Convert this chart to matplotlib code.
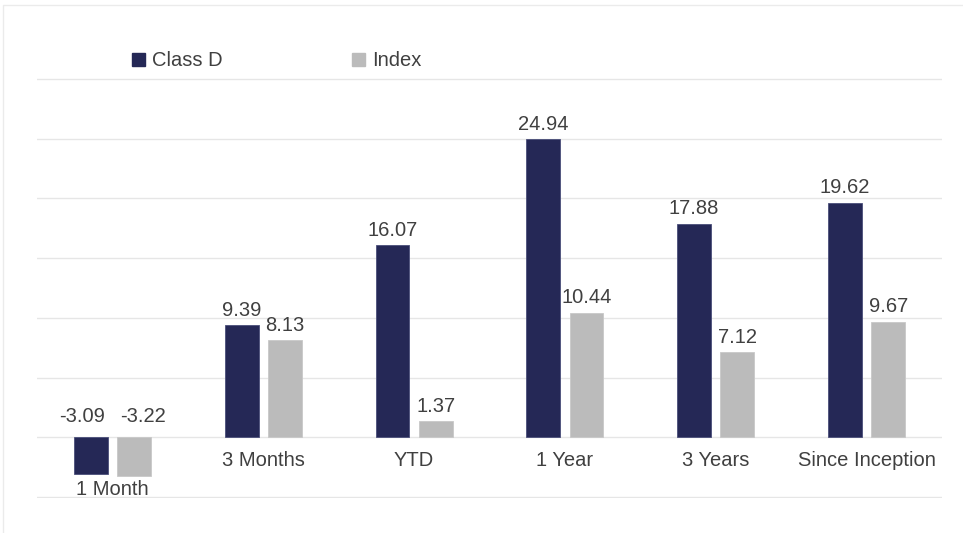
import matplotlib
matplotlib.use("Agg")
import matplotlib.pyplot as plt
from matplotlib.patches import Rectangle, Patch
import numpy as np

categories = ["1 Month", "3 Months", "YTD", "1 Year", "3 Years", "Since Inception"]
series_names = ["Class D", "Index"]
class_d = [-3.09, 9.39, 16.07, 24.94, 17.88, 19.62]
index_vals = [-3.22, 8.13, 1.37, 10.44, 7.12, 9.67]

colors = ["#252856", "#BBBBBB"]
edge_colors = ["#4A4E7A", "#C8C8C8"]
text_color = "#404040"
fs = 14.5
plt.rcParams['font.family'] = ['Liberation Sans', 'DejaVu Sans']

fig = plt.figure(figsize=(9.63, 5.33), dpi=100)
W, H = 963, 533
ax = fig.add_axes([37 / W, 1 - 498 / H, (942 - 37) / W, (498 - 78) / H])

# figure border
fig.patches.append(Rectangle((3 / W, -0.1), 1.2, (1 - 5 / H) + 0.1, transform=fig.transFigure,
                             fill=False, edgecolor="#EBEBEB", linewidth=1.0))

x = np.arange(len(categories))
bw = 0.225
off = 0.143
for vals, c, ec, sign in [(class_d, colors[0], edge_colors[0], -1), (index_vals, colors[1], edge_colors[1], 1)]:
    ax.bar(x + sign * off, vals, width=bw, color=c, edgecolor=ec, linewidth=0.6, zorder=3)
    for xi, v in zip(x, vals):
        pad = 0.45 if v >= 0 else 1.0
        shift = 0.0 if v >= 0 else sign * 0.06
        ax.text(xi + sign * off + shift, max(v, 0) + pad, f"{v:.2f}", ha="center", va="bottom",
                fontsize=fs, color=text_color, zorder=4)

ax.set_xlim(-0.5, 5.5)
ax.set_ylim(-5.06, 30.06)
ax.set_yticks(np.arange(-5, 31, 5))
ax.yaxis.grid(True, color="#E6E6E6", linewidth=1.0, zorder=0)
ax.set_axisbelow(True)
ax.tick_params(left=False, bottom=False, labelleft=False, labelbottom=False)
for s in ax.spines.values():
    s.set_visible(False)

# category labels
for xi, cat, a, b in zip(x, categories, class_d, index_vals):
    base = min(a, b, 0)
    y = base - (1.1 if base < 0 else 1.9)
    ax.text(xi, y, cat, ha="center", va="center", fontsize=fs, color=text_color)

handles = [Patch(facecolor=c, edgecolor=c) for c in colors]
fig.legend(handles, series_names, loc="center left", bbox_to_anchor=(132 / W, 1 - 61 / H),
           ncol=2, frameon=False, fontsize=fs, handlelength=0.65, handleheight=0.65,
           handletextpad=0.35, columnspacing=6.4, labelcolor=text_color, borderpad=0, borderaxespad=0)

fig.savefig("out.png", dpi=100)
